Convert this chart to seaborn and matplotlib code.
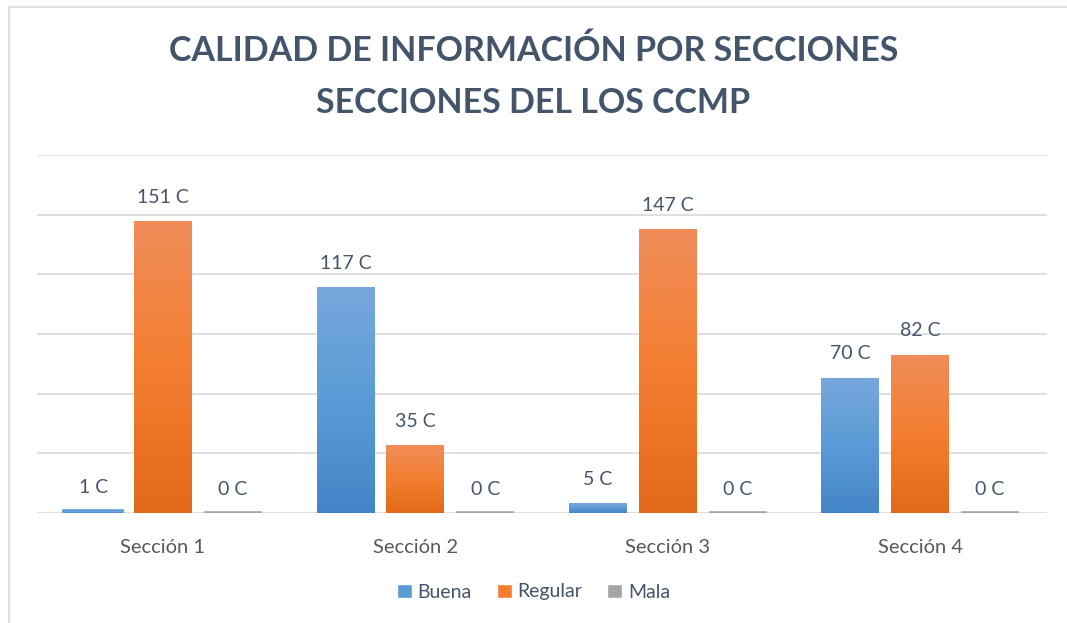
import numpy as np
import pandas as pd
import matplotlib
matplotlib.use('Agg')
import matplotlib.pyplot as plt
import seaborn as sns
from matplotlib.ticker import LinearLocator
from matplotlib.colors import LinearSegmentedColormap
from matplotlib.patches import Rectangle

# Data
secciones = ['Sección 1', 'Sección 2', 'Sección 3', 'Sección 4']
calidades = ['Buena', 'Regular', 'Mala']
buena = [1, 117, 5, 70]
regular = [151, 35, 147, 82]
mala = [0, 0, 0, 0]

df = pd.DataFrame({'seccion': secciones * 3,
                   'calidad': [c for c in calidades for _ in secciones],
                   'valor': buena + regular + mala})

# Colours (top, middle, bottom of the gradient)
grads = {'Buena': ['#77A8DD', '#5B9BD5', '#4485C8'],
         'Regular': ['#F08D5A', '#F47E30', '#E2691A'],
         'Mala': ['#ABABAB', '#A5A5A5', '#8F8F8F']}
palette = {k: v[1] for k, v in grads.items()}
text_col = '#44546A'

sns.set_style('white')
plt.rcParams['font.family'] = ['Lato', 'DejaVu Sans']

fig = plt.figure(figsize=(10.67, 6.23), dpi=100)
ax = fig.add_axes([36.75 / 1067, 1 - 513 / 623, (1046.5 - 36.75) / 1067, 358 / 623])

sns.barplot(data=df, x='seccion', y='valor', hue='calidad', palette=palette,
            width=0.83, gap=0.17, saturation=1, legend=False, ax=ax)

ax.set_ylim(0, 185.3)
ax.yaxis.set_major_locator(LinearLocator(7))
ax.grid(axis='y', color='#D9D9D9', linewidth=1.2)
ax.set_axisbelow(True)
for s in ax.spines.values():
    s.set_visible(False)
ax.set_yticklabels([])
ax.tick_params(axis='both', length=0)
ax.tick_params(axis='x', labelsize=14.5, labelcolor='#595959', pad=19)
ax.set_xlabel('')
ax.set_ylabel('')

# gradient fill + labels; very small bars get an outline so they stay visible
for container, cal in zip(ax.containers, calidades):
    cmap = LinearSegmentedColormap.from_list(cal, grads[cal][::-1])
    for bar in container:
        x0, y0 = bar.get_x(), bar.get_y()
        w, h = bar.get_width(), bar.get_height()
        if h < 3:
            bar.set_edgecolor(grads[cal][1])
            bar.set_linewidth(2.6)
        else:
            bar.set_edgecolor('none')
        if h > 0:
            grad = np.linspace(0, 1, 256).reshape(-1, 1)
            im = ax.imshow(grad, extent=[x0, x0 + w, y0, y0 + h], origin='lower',
                           cmap=cmap, aspect='auto', zorder=bar.get_zorder() + 0.1)
            im.set_clip_path(bar)
    ax.bar_label(container, labels=[f'{int(v)} C' for v in container.datavalues],
                 padding=11, fontsize=14, color=text_col)
ax.set_xlim(-0.5, 3.5)

# legend
handles = [Rectangle((0, 0), 1, 1, facecolor=palette[c]) for c in calidades]
fig.legend(handles, calidades, loc='center', bbox_to_anchor=(0.5, 1 - 592 / 623),
           ncol=3, frameon=False, fontsize=14, handlelength=0.75, handleheight=0.75,
           handletextpad=0.3, columnspacing=1.3, labelcolor=text_col)

# title
fig.text(0.5, 1 - 51 / 623, 'CALIDAD DE INFORMACIÓN POR SECCIONES', ha='center', va='center',
         fontsize=24.5, fontweight='bold', color=text_col)
fig.text(0.5, 1 - 103 / 623, 'SECCIONES DEL LOS CCMP', ha='center', va='center',
         fontsize=24.5, fontweight='bold', color=text_col)

# chart border
fig.add_artist(Rectangle((9 / 1067, -0.1), 1.2, 1.1 - 7 / 623, transform=fig.transFigure,
                         fill=False, edgecolor='#DEE2E7', linewidth=1.5))

fig.savefig('out.png', dpi=100)
